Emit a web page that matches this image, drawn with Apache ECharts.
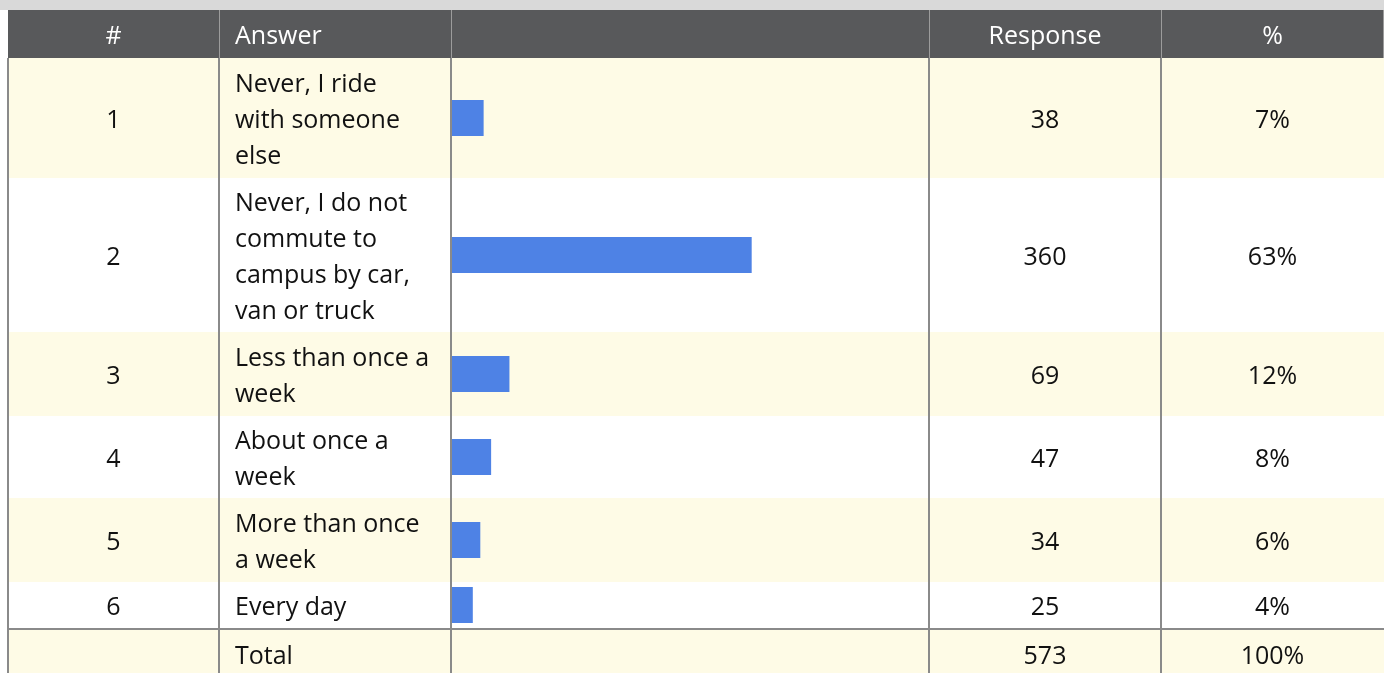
<!DOCTYPE html>
<html><head><meta charset="utf-8">
<script src="https://cdn.jsdelivr.net/npm/echarts@6/dist/echarts.min.js"></script>
<style>html,body{margin:0;padding:0;background:#fff}#c{width:1384px;height:673px}</style>
</head><body><div id="c"></div>
<script>
// ---- data ----
var rowNumbers = ['1','2','3','4','5','6'];
var answers = [
  'Never, I ride\nwith someone\nelse',
  'Never, I do not\ncommute to\ncampus by car,\nvan or truck',
  'Less than once a\nweek',
  'About once a\nweek',
  'More than once\na week',
  'Every day'
];
var responses = [38, 360, 69, 47, 34, 25];
var percents = ['7%', '63%', '12%', '8%', '6%', '4%'];
var headers = ['#', 'Answer', '', 'Response', '%'];
var totalLabel = 'Total';
var totalResponse = 573;
var totalPercent = '100%';

// ---- layout ----
var rowTops = [58, 178, 332, 416, 498, 582];
var rowBottoms = [178, 332, 416, 498, 582, 628];
var colX = [8, 219, 451, 929, 1161, 1384];
var headTop = 10, headBottom = 58;
var totalTop = 630, totalBottom = 673;
var FONT = '"Open Sans", "Noto Sans", sans-serif';
var FS = 25;
var DY = 3;
var cream = '#fefbe6', headBg = '#58595b', lineCol = '#8a8a8a', barCol = '#4e82e5';

var chart = echarts.init(document.getElementById('c'), null, {renderer: 'canvas'});
var graphics = [];
graphics.push({type: 'rect', shape: {x: 0, y: 0, width: 1384, height: headTop}, style: {fill: '#d9d9d9'}, z: 0});
graphics.push({type: 'rect', shape: {x: colX[0], y: headTop, width: 1384 - colX[0], height: headBottom - headTop}, style: {fill: headBg}, z: 0});
for (var i = 0; i < rowTops.length; i++) {
  graphics.push({type: 'rect', shape: {x: colX[0], y: rowTops[i], width: 1384 - colX[0], height: rowBottoms[i] - rowTops[i]}, style: {fill: i % 2 === 0 ? cream : '#ffffff'}, z: 0});
}
graphics.push({type: 'rect', shape: {x: colX[0], y: totalTop, width: 1384 - colX[0], height: totalBottom - totalTop}, style: {fill: cream}, z: 0});
// header vertical lines
[1, 2, 3, 4].forEach(function (k) {
  graphics.push({type: 'line', shape: {x1: colX[k] + 0.5, y1: headTop, x2: colX[k] + 0.5, y2: headBottom}, style: {stroke: '#9c9c9c', lineWidth: 1}, z: 5});
});
graphics.push({type: 'line', shape: {x1: 1383.5, y1: headTop, x2: 1383.5, y2: headBottom}, style: {stroke: '#9c9c9c', lineWidth: 1}, z: 5});
// body vertical lines
[0, 1, 2, 3, 4].forEach(function (k) {
  graphics.push({type: 'line', shape: {x1: colX[k], y1: headBottom, x2: colX[k], y2: 673}, style: {stroke: lineCol, lineWidth: 2}, z: 5});
});
graphics.push({type: 'line', shape: {x1: colX[0], y1: 629, x2: 1384, y2: 629}, style: {stroke: lineCol, lineWidth: 2}, z: 5});

function txt(x, y, s, align, color) {
  return {type: 'text', x: x, y: y + DY, z: 6, style: {text: s, font: FS + 'px ' + FONT, fill: color, align: align, verticalAlign: 'middle', lineHeight: 36}};
}
var hc = (headTop + headBottom) / 2;
graphics.push(txt((colX[0] + colX[1]) / 2, hc, headers[0], 'center', '#ffffff'));
graphics.push(txt(colX[1] + 16, hc, headers[1], 'left', '#ffffff'));
graphics.push(txt((colX[3] + colX[4]) / 2, hc, headers[3], 'center', '#ffffff'));
graphics.push(txt((colX[4] + colX[5]) / 2, hc, headers[4], 'center', '#ffffff'));
for (var i = 0; i < rowTops.length; i++) {
  var cy = (rowTops[i] + rowBottoms[i]) / 2;
  graphics.push(txt((colX[0] + colX[1]) / 2, cy, rowNumbers[i], 'center', '#111'));
  graphics.push(txt(colX[1] + 16, cy, answers[i], 'left', '#111'));
  graphics.push(txt((colX[3] + colX[4]) / 2, cy, String(responses[i]), 'center', '#111'));
  graphics.push(txt((colX[4] + colX[5]) / 2, cy, percents[i], 'center', '#111'));
}
var tc = (totalTop + totalBottom) / 2 + 2;
graphics.push(txt(colX[1] + 16, tc, totalLabel, 'left', '#111'));
graphics.push(txt((colX[3] + colX[4]) / 2, tc, String(totalResponse), 'center', '#111'));
graphics.push(txt((colX[4] + colX[5]) / 2, tc, totalPercent, 'center', '#111'));

var grids = [], xAxes = [], yAxes = [], series = [];
for (var i = 0; i < rowTops.length; i++) {
  grids.push({left: colX[2] + 1, width: colX[3] - colX[2] - 1, top: rowTops[i], height: rowBottoms[i] - rowTops[i], containLabel: false});
  xAxes.push({type: 'value', gridIndex: i, min: 0, max: totalResponse, show: false});
  yAxes.push({type: 'category', gridIndex: i, data: [answers[i]], show: false});
  series.push({type: 'bar', xAxisIndex: i, yAxisIndex: i, data: [responses[i]], barWidth: 36, itemStyle: {color: barCol}, z: 3, silent: true, animation: false});
}

chart.setOption({
  animation: false,
  grid: grids, xAxis: xAxes, yAxis: yAxes, series: series,
  graphic: {elements: graphics}
});
</script></body></html>
